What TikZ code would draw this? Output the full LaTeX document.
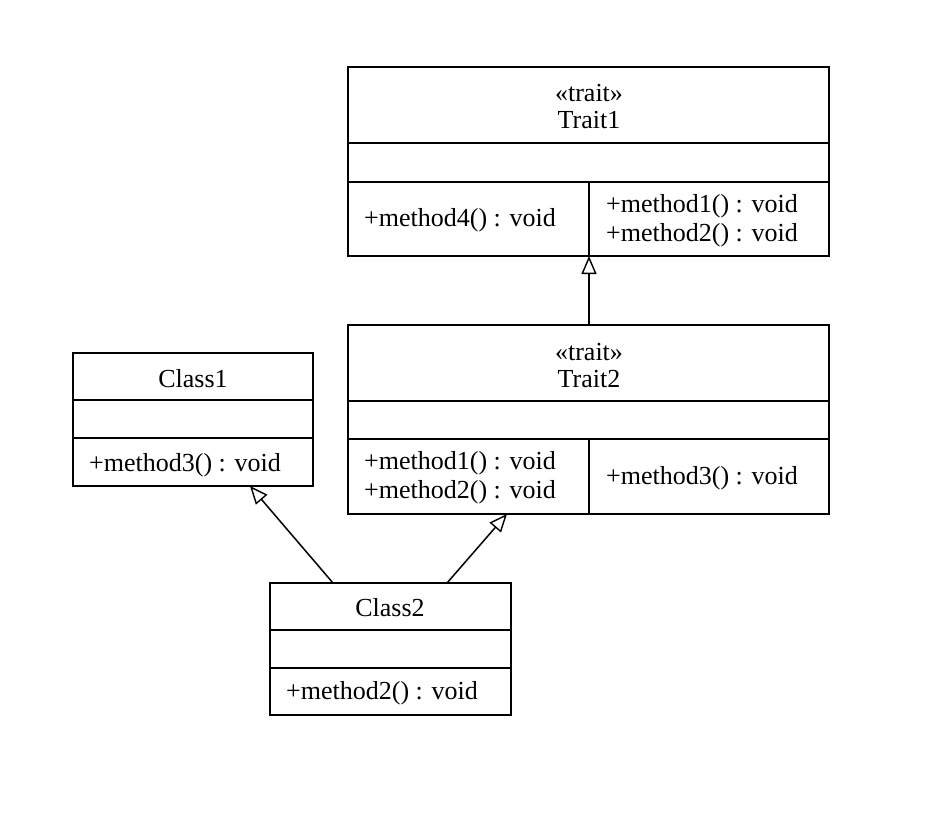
\documentclass[tikz,border=0pt]{standalone}
\usepackage{fontspec}
\setmainfont{Liberation Serif}
\usetikzlibrary{arrows.meta}
\tikzset{
  classbox/.style={draw, line width=1.4pt, rectangle, inner sep=0pt},
  sep/.style={line width=1.4pt},
  txt/.style={inner sep=0pt, font=\fontsize{26}{29}\selectfont, align=left},
  ctxt/.style={inner sep=0pt, font=\fontsize{26}{27}\selectfont, align=center},
  inh/.style={line width=1.5pt, -{Triangle[open, length=18pt, width=15pt, line width=1.4pt]}}
}
\begin{document}
\begin{tikzpicture}[x=1pt, y=-1pt]
\useasboundingbox (0,0) rectangle (934,816);

% Trait1
\node[classbox, minimum width=481pt, minimum height=189pt] (t1) at (588.5,161.5) {};
\draw[sep] (348,143) -- (829,143);
\draw[sep] (348,182) -- (829,182);
\draw[sep] (589,182) -- (589,256);
\node[ctxt] (t1name) at (589,107) {«trait»\\Trait1};
\node[txt, anchor=west] (t1m1) at (364,220) {+method4() : void};
\node[txt, anchor=west] (t1m2) at (606,220.5) {+method1() : void\\+method2() : void};

% Trait2
\node[classbox, minimum width=481pt, minimum height=189pt] (t2) at (588.5,419.5) {};
\draw[sep] (348,401) -- (829,401);
\draw[sep] (348,439) -- (829,439);
\draw[sep] (589,439) -- (589,514);
\node[ctxt] (t2name) at (589,366) {«trait»\\Trait2};
\node[txt, anchor=west] (t2m1) at (364,478) {+method1() : void\\+method2() : void};
\node[txt, anchor=west] (t2m2) at (606,478) {+method3() : void};

% Class1
\node[classbox, minimum width=240pt, minimum height=133pt] (c1) at (193,419.5) {};
\draw[sep] (73,400) -- (313,400);
\draw[sep] (73,438) -- (313,438);
\node[ctxt] (c1name) at (193,379) {Class1};
\node[txt, anchor=west] (c1m) at (89,465) {+method3() : void};

% Class2
\node[classbox, minimum width=241pt, minimum height=132pt] (c2) at (390.5,649) {};
\draw[sep] (270,630) -- (511,630);
\draw[sep] (270,668) -- (511,668);
\node[ctxt] (c2name) at (390,608) {Class2};
\node[txt, anchor=west] (c2m) at (286,693) {+method2() : void};

% Generalization connectors
\coordinate (t2top) at (589,325);
\coordinate (t1foot) at (589,256);
\coordinate (c2left) at (333,583);
\coordinate (c2right) at (447,583);
\coordinate (c1foot) at (250,486);
\coordinate (t2foot) at (507,514);
\draw[inh] (t2top) -- (t1foot);
\draw[inh] (c2left) -- (c1foot);
\draw[inh] (c2right) -- (t2foot);
\end{tikzpicture}
\end{document}
